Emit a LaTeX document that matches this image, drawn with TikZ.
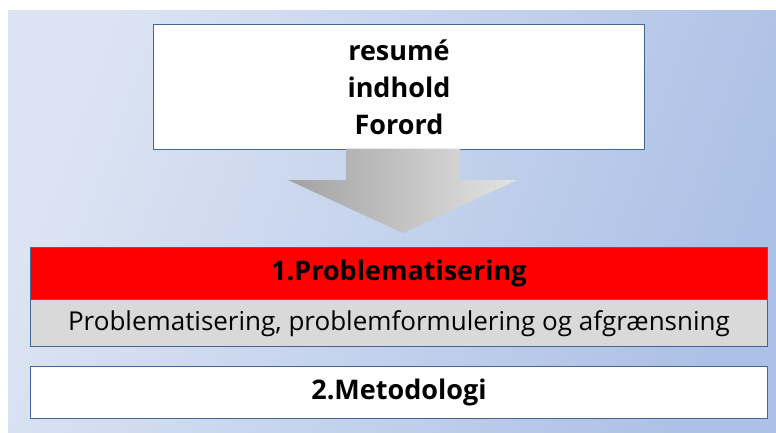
\documentclass[tikz,border=0pt]{standalone}
\usepackage{fontspec}
\setmainfont{Open Sans}
\definecolor{bglight}{HTML}{DCE4F3}
\definecolor{bgdark}{HTML}{ADC1E6}
\definecolor{boxline}{HTML}{41679A}
\definecolor{boxgrey}{HTML}{D9D9D9}
\definecolor{arrdark}{HTML}{A2A2A2}
\definecolor{arrlight}{HTML}{E3E3E3}
\begin{document}
\begin{tikzpicture}[x=1pt,y=-1pt,
  panel/.style={draw=boxline,line width=1.4pt,inner sep=0pt,minimum width=737.5pt,anchor=north west,align=center},
  bigtxt/.style={font=\fontsize{27}{37}\selectfont\bfseries},
  midtxt/.style={font=\fontsize{26}{30}\selectfont}]
\useasboundingbox (0,0) rectangle (776,432);
\shade[top color=bglight,bottom color=bgdark,shading angle=70] (8,10) rectangle (776,432);
% top box
\node[panel,fill=white,minimum width=491.5pt,minimum height=124.5pt,bigtxt] (top) at (152.5,24)
  {resumé\\indhold\\Forord};
% arrow
\shade[left color=arrdark,right color=arrlight]
  (346,148.5) -- (460,148.5) -- (460,180) -- (517,180) -- (403,233) -- (288,180) -- (346,180) -- cycle;
% red box
\node[panel,fill=red,minimum height=52pt,bigtxt] (p1) at (29.5,247) {1.Problematisering};
\node[panel,fill=boxgrey,minimum height=47pt,midtxt] (p1sub) at (29.5,299) {Problematisering, problemformulering og afgrænsning};
\node[panel,fill=white,minimum height=52pt,bigtxt] (p2) at (29.5,366) {2.Metodologi};
\end{tikzpicture}
\end{document}
